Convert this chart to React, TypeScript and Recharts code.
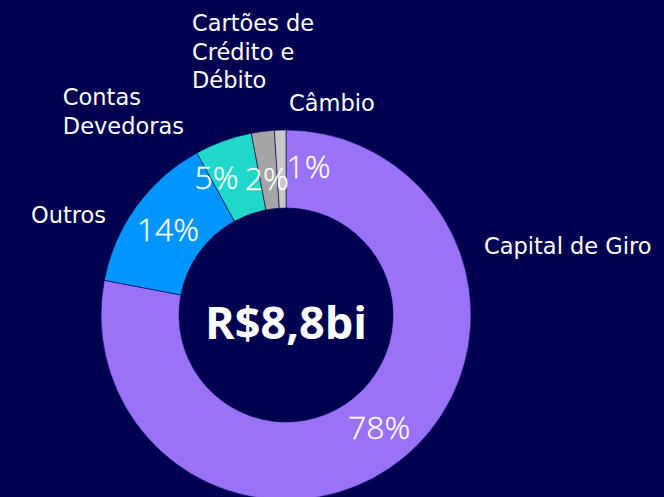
import { Cell, Pie, PieChart } from "recharts";

const CATEGORIES = [
  "Capital de Giro",
  "Outros",
  "Contas Devedoras",
  "Cartões de Crédito e Débito",
  "Câmbio",
];
const SHARES = [78, 14, 5, 2, 1];
const COLORS = ["#9A72F7", "#0095FF", "#1FD8C9", "#A5A5A5", "#C8C8C8"];
const TOTAL_LABEL = "R$8,8bi";

const BG = "#000050";
const FONT = '"Open Sans", sans-serif';
const NAME_FONT = '"DejaVu Sans", sans-serif';
const NAME_SIZE = 22.5;
const PCT_SIZE = 32;
const LINE_H = 28.5;

const data = CATEGORIES.map((name, i) => ({ name, value: SHARES[i] }));

// where each name sits, relative to the pie centre (middle of first line)
const NAME_LAYOUT = [
  { x: 198, y: -69, align: "start", wrap: 400 },
  { x: -180, y: -100, align: "end", wrap: 400 },
  { x: -102, y: -218, align: "end", wrap: 150 },
  { x: -94, y: -292, align: "start", wrap: 150 },
  { x: 3, y: -212, align: "start", wrap: 400 },
];
// the tiny slices get their % pushed sideways so they don't collide
const PCT_NUDGE = [
  [0, 0],
  [0, 0],
  [-20, 0],
  [-1, 8],
  [27, -2],
];

let ctx: CanvasRenderingContext2D | null = null;
function measure(text: string, font: string) {
  if (!ctx) ctx = document.createElement("canvas").getContext("2d");
  ctx!.font = font;
  return ctx!.measureText(text).width;
}

function wrap(text: string, maxW: number, font: string) {
  const lines: string[] = [];
  let cur = "";
  for (const w of text.split(" ")) {
    const next = cur ? cur + " " + w : w;
    if (cur && measure(next, font) > maxW) {
      lines.push(cur);
      cur = w;
    } else cur = next;
  }
  if (cur) lines.push(cur);
  return lines;
}

function renderLabel(props: any) {
  const { cx, cy, midAngle, innerRadius, outerRadius, index, percent } = props;
  const RAD = Math.PI / 180;
  const r = (innerRadius + outerRadius) / 2;
  const [nx, ny] = PCT_NUDGE[index];
  const px = cx + r * Math.cos(-midAngle * RAD) + nx;
  const py = cy + r * Math.sin(-midAngle * RAD) + ny;

  const nameFont = `400 ${NAME_SIZE}px ${NAME_FONT}`;
  const lay = NAME_LAYOUT[index];
  const lines = wrap(CATEGORIES[index], lay.wrap, nameFont);
  const widest = Math.max(...lines.map((l) => measure(l, nameFont)));
  const left = lay.align === "start" ? cx + lay.x : cx + lay.x - widest;
  const top = cy + lay.y;

  return (
    <g>
      <text
        x={px}
        y={py + PCT_SIZE * 0.357}
        textAnchor="middle"
        fill="#fff"
        fontFamily={FONT}
        fontWeight={300}
        fontSize={PCT_SIZE}
        stroke="#fff"
        strokeWidth={0.3}
      >
        {`${Math.round(percent * 100)}%`}
      </text>
      {lines.map((l, i) => (
        <text
          key={i}
          x={left}
          y={top + i * LINE_H + NAME_SIZE * 0.36}
          fill="#fff"
          fontFamily={NAME_FONT}
          fontSize={NAME_SIZE}
        >
          {l}
        </text>
      ))}
      {index === 0 && (
        <text
          x={cx}
          y={cy + 24}
          textAnchor="middle"
          fill="#fff"
          fontFamily={FONT}
          fontWeight={700}
          fontSize={45}
        >
          {TOTAL_LABEL}
        </text>
      )}
    </g>
  );
}

export default function App() {
  return (
    <div
      style={{
        position: "fixed",
        left: 0,
        top: 0,
        width: 664,
        height: 497,
        background: BG,
        overflow: "hidden",
      }}
    >
      <PieChart width={664} height={497} margin={{ top: 0, right: 0, bottom: 0, left: 0 }}>
        <Pie
          data={data}
          dataKey="value"
          nameKey="name"
          cx={286}
          cy={315}
          innerRadius={107}
          outerRadius={185}
          startAngle={90}
          endAngle={-270}
          stroke={BG}
          strokeWidth={0.6}
          label={renderLabel}
          labelLine={false}
          isAnimationActive={false}
        >
          {data.map((_, i) => (
            <Cell key={`cell-${i}`} fill={COLORS[i]} />
          ))}
        </Pie>
      </PieChart>
    </div>
  );
}
